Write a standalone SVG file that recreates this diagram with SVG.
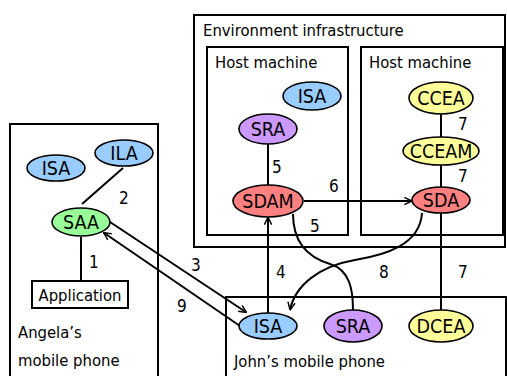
<svg xmlns="http://www.w3.org/2000/svg" width="507" height="376" viewBox="0 0 507 376">
<defs>
<marker id="arr" viewBox="0 0 10 10" refX="9.5" refY="5" markerWidth="9" markerHeight="9" markerUnits="userSpaceOnUse" orient="auto">
<path d="M1,1 L9.5,5 L1,9" fill="none" stroke="#000" stroke-width="1.6"/>
</marker>
</defs>
<style>
.box{fill:#fff;stroke:#000;stroke-width:2}
.t{font-family:"DejaVu Sans Condensed","DejaVu Sans",sans-serif;font-size:16.5px;fill:#000}
.n{font-family:"DejaVu Sans Condensed","DejaVu Sans",sans-serif;font-size:17px;fill:#000}
.e{stroke:#000;stroke-width:1.6}
.el{font-family:"DejaVu Sans Condensed","DejaVu Sans",sans-serif;font-size:19.5px;fill:#000;text-anchor:middle;dominant-baseline:central}
.c{fill:none;stroke:#000;stroke-width:2}
.blue{fill:#99CCFF}.purple{fill:#CC99FF}.red{fill:#FF8080}.yellow{fill:#FFFF99}.green{fill:#99FF99}
</style>
<rect width="507" height="376" fill="#fff"/>
<g id="angela-phone"><rect class="box" x="10" y="124" width="148" height="270"/><text class="t" x="18" y="338">Angela’s</text><text class="t" x="18" y="366">mobile phone</text></g>
<g id="env"><rect class="box" x="194" y="15" width="311" height="232"/><text class="t" x="203" y="36">Environment infrastructure</text></g>
<g id="host1"><rect class="box" x="207" y="47" width="141" height="188"/><text class="t" x="215" y="68">Host machine</text></g>
<g id="host2"><rect class="box" x="361" y="47" width="142" height="188"/><text class="t" x="369" y="68">Host machine</text></g>
<g id="john-phone"><rect class="box" x="226" y="297" width="280" height="100"/><text class="t" x="234" y="367">John’s mobile phone</text></g>
<g id="connectors">
<line class="c" x1="81" y1="237" x2="81" y2="281"/>
<line class="c" x1="82" y1="204" x2="123" y2="168"/>
<line class="c" x1="110" y1="222" x2="246.5" y2="312.5" marker-end="url(#arr)"/>
<line class="c" x1="240" y1="326" x2="103.5" y2="232.5" marker-end="url(#arr)"/>
<line class="c" x1="268" y1="313" x2="268" y2="217" marker-end="url(#arr)"/>
<line class="c" x1="268" y1="144" x2="268" y2="186"/>
<line class="c" x1="304" y1="201" x2="412" y2="201" marker-end="url(#arr)"/>
<line class="c" x1="441" y1="113" x2="441" y2="137"/>
<line class="c" x1="441" y1="165" x2="441" y2="188"/>
<line class="c" x1="441" y1="213" x2="441" y2="311"/>
<path class="c" d="M293,214 C293,245 310,258 330,264 C350,270 353,290 353,310"/>
<path class="c" d="M422,213 C420,245 385,255 355,260 C320,266 295,285 290,310" marker-end="url(#arr)"/>
<text class="n" x="89" y="268">1</text>
<text class="n" x="119" y="204">2</text>
<text class="n" x="191" y="271">3</text>
<text class="n" x="177" y="312">9</text>
<text class="n" x="276" y="278">4</text>
<text class="n" x="272" y="173">5</text>
<text class="n" x="310" y="232">5</text>
<text class="n" x="329" y="192">6</text>
<text class="n" x="458" y="130">7</text>
<text class="n" x="458" y="182">7</text>
<text class="n" x="458" y="278">7</text>
<text class="n" x="379" y="278">8</text>
</g>
<g id="app"><rect class="box" x="32" y="281" width="96" height="27"/><text class="t" x="80" y="300.5" text-anchor="middle">Application</text></g>
<g id="a-isa"><ellipse class="e blue" cx="56" cy="168" rx="29" ry="13"/><text class="el" x="56" y="168">ISA</text></g>
<g id="ila"><ellipse class="e blue" cx="124" cy="153" rx="29" ry="13"/><text class="el" x="124" y="153">ILA</text></g>
<g id="saa"><ellipse class="e green" cx="81" cy="222" rx="29" ry="14"/><text class="el" x="81" y="222">SAA</text></g>
<g id="h-isa"><ellipse class="e blue" cx="312" cy="96" rx="29" ry="14"/><text class="el" x="312" y="96">ISA</text></g>
<g id="h-sra"><ellipse class="e purple" cx="268" cy="129" rx="29" ry="15"/><text class="el" x="268" y="129">SRA</text></g>
<g id="sdam"><ellipse class="e red" cx="268" cy="201" rx="35" ry="16"/><text class="el" x="268" y="201">SDAM</text></g>
<g id="ccea"><ellipse class="e yellow" cx="441" cy="98" rx="32" ry="16"/><text class="el" x="441" y="98">CCEA</text></g>
<g id="cceam"><ellipse class="e yellow" cx="441" cy="151" rx="38" ry="14"/><text class="el" x="441" y="151">CCEAM</text></g>
<g id="sda"><ellipse class="e red" cx="441" cy="200" rx="29" ry="13"/><text class="el" x="441" y="200">SDA</text></g>
<g id="j-isa"><ellipse class="e blue" cx="268" cy="326" rx="29" ry="13"/><text class="el" x="268" y="326">ISA</text></g>
<g id="j-sra"><ellipse class="e purple" cx="353" cy="326" rx="29" ry="16"/><text class="el" x="353" y="326">SRA</text></g>
<g id="dcea"><ellipse class="e yellow" cx="441" cy="326" rx="32" ry="16"/><text class="el" x="441" y="326">DCEA</text></g>
</svg>
